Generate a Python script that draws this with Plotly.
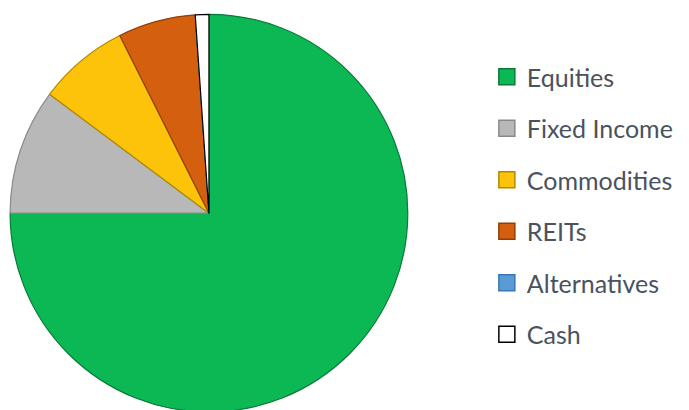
import plotly.graph_objects as go

categories = ["Equities", "Fixed Income", "Commodities", "REITs", "Alternatives", "Cash"]
values = [75.0, 10.2, 7.4, 6.3, 0.0, 1.1]
colors = ["#0cb854", "#b8b8b8", "#fcc30a", "#d4600f", "#5b9bd5", "#ffffff"]
borders = ["#0a7a3a", "#8a8a8a", "#b08a00", "#8f3f08", "#3a78b5", "#000000"]

fig = go.Figure()
fig.add_trace(go.Pie(
    labels=categories, values=values, sort=False, direction="clockwise",
    rotation=0, textinfo="none", hoverinfo="label+percent",
    marker=dict(colors=colors, line=dict(color=borders, width=1.2)),
    domain=dict(x=[0.0029, 0.5804], y=[0.0146, 0.9846]),
    showlegend=False,
))

for cat, col, bc in zip(categories, colors, borders):
    fig.add_trace(go.Scatter(
        x=[None], y=[None], mode="markers", name=cat, legendgroup=cat,
        marker=dict(symbol="square", size=16, color=col, line=dict(color=bc, width=1.5)),
        showlegend=True,
    ))

fig.update_layout(
    width=689, height=410,
    margin=dict(l=0, r=0, t=0, b=0),
    paper_bgcolor="white", plot_bgcolor="white",
    xaxis=dict(visible=False), yaxis=dict(visible=False),
    legend=dict(
        x=0.695, y=0.518, xanchor="left", yanchor="middle",
        font=dict(family="Lato", size=25, color="#4a5260"),
        tracegroupgap=16, itemwidth=30,
        bgcolor="rgba(0,0,0,0)",
    ),
)
fig.write_html("out.html")
